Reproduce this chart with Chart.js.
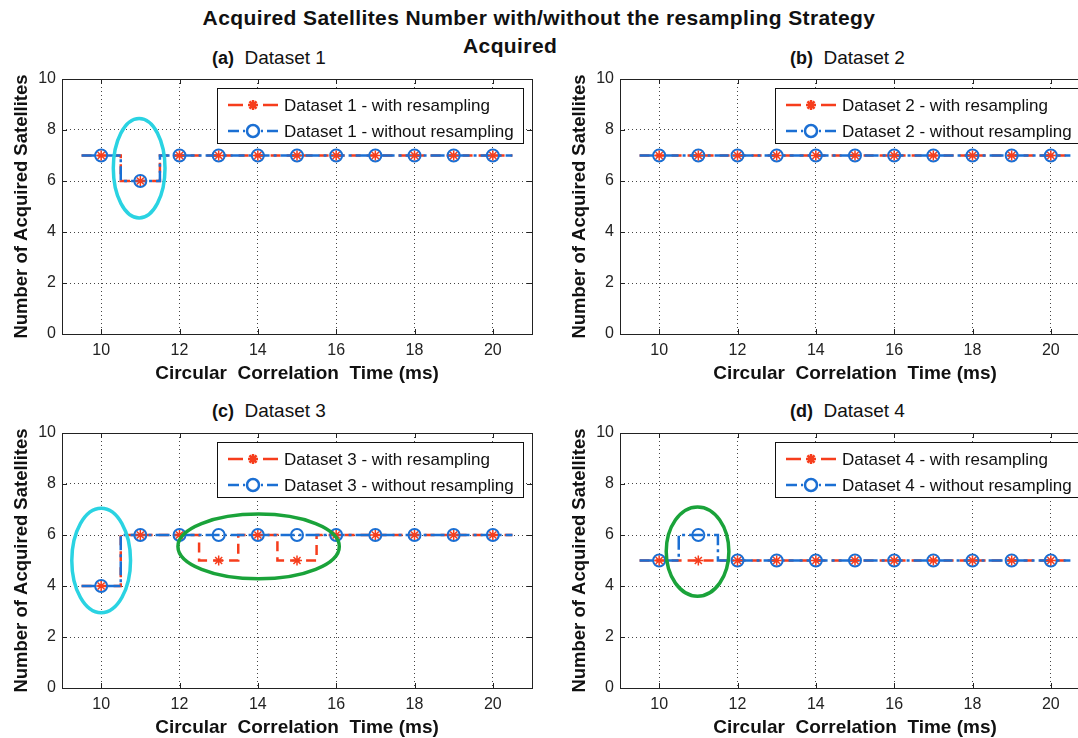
<!DOCTYPE html>
<html>
<head>
<meta charset="utf-8">
<script src="https://cdn.jsdelivr.net/npm/chart.js@4.4.0/dist/chart.umd.min.js"></script>
<style>
  html, body { margin: 0; padding: 0; background: #fff; overflow: hidden; width: 1078px; height: 738px; }
  canvas { position: absolute; }
  .txt { position: absolute; font-family: 'Liberation Sans', Arial, sans-serif; color: #111; white-space: pre; }
  .sub { font-size: 19px; }
  .sub b { font-size: 18px; }
  .main { font-size: 21px; font-weight: bold; letter-spacing: 0.4px; }
</style>
</head>
<body>
<div class="txt main" style="left:0; width:1078px; top:6px; text-align:center;">Acquired Satellites Number with/without the resampling Strategy</div>
<div class="txt main" style="left:463px; top:34px;">Acquired</div>
<div class="txt sub" style="left:212px; top:47px;"><b>(a)</b>  Dataset 1</div>
<div class="txt sub" style="left:790px; top:47px;"><b>(b)</b>  Dataset 2</div>
<div class="txt sub" style="left:212px; top:400px;"><b>(c)</b>  Dataset 3</div>
<div class="txt sub" style="left:790px; top:400px;"><b>(d)</b>  Dataset 4</div>

<canvas id="c1" width="560" height="330" style="left:0; top:60px"></canvas>
<canvas id="c2" width="560" height="330" style="left:558px; top:60px"></canvas>
<canvas id="c3" width="560" height="330" style="left:0; top:414px"></canvas>
<canvas id="c4" width="560" height="330" style="left:558px; top:414px"></canvas>

<script>
// x values (correlation time, ms) and tick labels
var times = [10, 11, 12, 13, 14, 15, 16, 17, 18, 19, 20];
var xTicks = [10, 12, 14, 16, 18, 20];
var yTicks = [0, 2, 4, 6, 8, 10];

// number of acquired satellites
var ds1With    = [7, 6, 7, 7, 7, 7, 7, 7, 7, 7, 7];
var ds1Without = [7, 6, 7, 7, 7, 7, 7, 7, 7, 7, 7];
var ds2With    = [7, 7, 7, 7, 7, 7, 7, 7, 7, 7, 7];
var ds2Without = [7, 7, 7, 7, 7, 7, 7, 7, 7, 7, 7];
var ds3With    = [4, 6, 6, 5, 6, 5, 6, 6, 6, 6, 6];
var ds3Without = [4, 6, 6, 6, 6, 6, 6, 6, 6, 6, 6];
var ds4With    = [5, 5, 5, 5, 5, 5, 5, 5, 5, 5, 5];
var ds4Without = [5, 6, 5, 5, 5, 5, 5, 5, 5, 5, 5];

// highlight ellipses in data units: centre x, centre y, half width, half height, colour
var marks1 = [[10.97, 6.5, 0.66, 1.95, '#2ad3e2']];
var marks3 = [[10.0, 5.0, 0.75, 2.05, '#2ad3e2'], [14.02, 5.55, 2.06, 1.27, '#1aa33a']];
var marks4 = [[10.98, 5.35, 0.8, 1.75, '#1aa33a']];

var RED = '#f63d1c';
var BLUE = '#1b6fd3';

Chart.defaults.font.family = "'Liberation Sans', Arial, sans-serif";
Chart.defaults.color = '#111';

// stairs: each value held from t-0.5 to t+0.5
function stairs(vals) {
  var pts = times.map(function (t, i) { return { x: t - 0.5, y: vals[i] }; });
  pts.push({ x: times[times.length - 1] + 0.5, y: vals[vals.length - 1] });
  return pts;
}
function points(vals) {
  return times.map(function (t, i) { return { x: t, y: vals[i] }; });
}

// axes box with inward ticks
var boxPlugin = {
  id: 'box',
  beforeDatasetsDraw: function (chart) {
    var ctx = chart.ctx, a = chart.chartArea;
    var sx = chart.scales.x, sy = chart.scales.y;
    ctx.save();
    ctx.strokeStyle = '#222';
    ctx.lineWidth = 1;
    ctx.beginPath();
    xTicks.forEach(function (v) {
      var px = Math.round(sx.getPixelForValue(v)) + 0.5;
      ctx.moveTo(px, a.bottom); ctx.lineTo(px, a.bottom - 5);
      ctx.moveTo(px, a.top); ctx.lineTo(px, a.top + 5);
    });
    yTicks.forEach(function (v) {
      var py = Math.round(sy.getPixelForValue(v)) + 0.5;
      ctx.moveTo(a.left, py); ctx.lineTo(a.left + 5, py);
      ctx.moveTo(a.right, py); ctx.lineTo(a.right - 5, py);
    });
    ctx.stroke();
    ctx.strokeRect(Math.round(a.left) + 0.5, Math.round(a.top) + 0.5, Math.round(a.right - a.left), Math.round(a.bottom - a.top));
    ctx.restore();
  }
};

// ellipses and MATLAB-style legend
var legendDash = [[15, 20, 15], [11, 4, 2, 16, 2, 4, 11]];
var notePlugin = {
  id: 'notes',
  afterDatasetsDraw: function (chart, args, opts) {
    var ctx = chart.ctx, a = chart.chartArea;
    var sx = chart.scales.x, sy = chart.scales.y;
    ctx.save();
    (opts.marks || []).forEach(function (m) {
      var cx = sx.getPixelForValue(m[0]), cy = sy.getPixelForValue(m[1]);
      var rx = sx.getPixelForValue(m[0] + m[2]) - cx;
      var ry = cy - sy.getPixelForValue(m[1] + m[3]);
      ctx.beginPath();
      ctx.ellipse(cx, cy, rx, ry, 0, 0, Math.PI * 2);
      ctx.strokeStyle = m[4];
      ctx.lineWidth = 3.5;
      ctx.stroke();
    });

    var left = Math.round(a.left + 155), top = Math.round(a.top + 9);
    var w = Math.round(a.right - 9 - left), h = 55;
    ctx.fillStyle = '#fff';
    ctx.fillRect(left, top, w, h);
    ctx.strokeStyle = '#111';
    ctx.lineWidth = 1;
    ctx.strokeRect(left + 0.5, top + 0.5, w, h);

    var ds = chart.data.datasets;
    [[0, 3], [1, 2]].forEach(function (pair, i) {
      var line = ds[pair[0]], mk = ds[pair[1]];
      var y = top + 17 + i * 26;
      ctx.setLineDash(legendDash[i]);
      ctx.strokeStyle = line.borderColor;
      ctx.lineWidth = line.borderWidth;
      ctx.beginPath();
      ctx.moveTo(left + 11, y);
      ctx.lineTo(left + 61, y);
      ctx.stroke();
      ctx.setLineDash([]);
      ctx.strokeStyle = mk.pointBorderColor;
      ctx.fillStyle = 'rgba(0,0,0,0)';
      Chart.helpers.drawPoint(ctx, {
        pointStyle: mk.pointStyle, radius: mk.pointRadius,
        borderWidth: mk.pointBorderWidth, rotation: 0
      }, left + 36, y);
      ctx.fillStyle = '#111';
      ctx.font = "17px 'Liberation Sans', Arial, sans-serif";
      ctx.textBaseline = 'middle';
      ctx.fillText(line.label, left + 67, y + 1);
    });
    ctx.restore();
  }
};

function makePanel(id, name, withVals, withoutVals, marks) {
  return new Chart(document.getElementById(id), {
    type: 'line',
    data: {
      datasets: [
        { label: name + ' - with resampling', data: stairs(withVals), stepped: true,
          borderColor: RED, borderWidth: 2.5, borderDash: [10, 6], pointRadius: 0, fill: false, order: 4 },
        { label: name + ' - without resampling', data: stairs(withoutVals), stepped: true,
          borderColor: BLUE, borderWidth: 2.5, borderDash: [14, 4, 3, 4], pointRadius: 0, fill: false, order: 3 },
        { label: 'o', data: points(withoutVals), showLine: false, pointStyle: 'circle', pointRadius: 6,
          pointBorderColor: BLUE, pointBackgroundColor: 'rgba(0,0,0,0)', pointBorderWidth: 2, order: 2 },
        { label: '*', data: points(withVals), showLine: false, pointStyle: 'star', pointRadius: 5,
          pointBorderColor: RED, pointBackgroundColor: RED, pointBorderWidth: 1.5, order: 1 }
      ]
    },
    options: {
      responsive: false,
      animation: false,
      events: [],
      layout: { padding: { top: 19, right: 28, left: 0, bottom: 0 } },
      plugins: {
        legend: { display: false },
        tooltip: { enabled: false },
        notes: { marks: marks }
      },
      scales: {
        x: {
          type: 'linear', min: 9, max: 21,
          afterBuildTicks: function (s) { s.ticks = xTicks.map(function (v) { return { value: v }; }); },
          afterFit: function (s) { s.height = 56; },
          grid: { color: '#444', lineWidth: 1, drawTicks: false },
          border: { display: false, dash: [1, 3] },
          ticks: { color: '#222', font: { size: 16 }, padding: 7, maxRotation: 0 },
          title: { display: true, text: 'Circular  Correlation  Time (ms)', color: '#111',
                   font: { size: 19, weight: 'bold' }, padding: { top: 0, bottom: 5 } }
        },
        y: {
          type: 'linear', min: 0, max: 10,
          afterBuildTicks: function (s) { s.ticks = yTicks.map(function (v) { return { value: v }; }); },
          afterFit: function (s) { s.width = 62; },
          grid: { color: '#444', lineWidth: 1, drawTicks: false },
          border: { display: false, dash: [1, 3] },
          ticks: { color: '#222', font: { size: 16 }, padding: 6 },
          title: { display: true, text: 'Number of Acquired Satellites', color: '#111',
                   font: { size: 18.5, weight: 'bold' }, padding: { top: 11, bottom: 0 } }
        }
      }
    },
    plugins: [boxPlugin, notePlugin]
  });
}

makePanel('c1', 'Dataset 1', ds1With, ds1Without, marks1);
makePanel('c2', 'Dataset 2', ds2With, ds2Without, []);
makePanel('c3', 'Dataset 3', ds3With, ds3Without, marks3);
makePanel('c4', 'Dataset 4', ds4With, ds4Without, marks4);
</script>
</body>
</html>
